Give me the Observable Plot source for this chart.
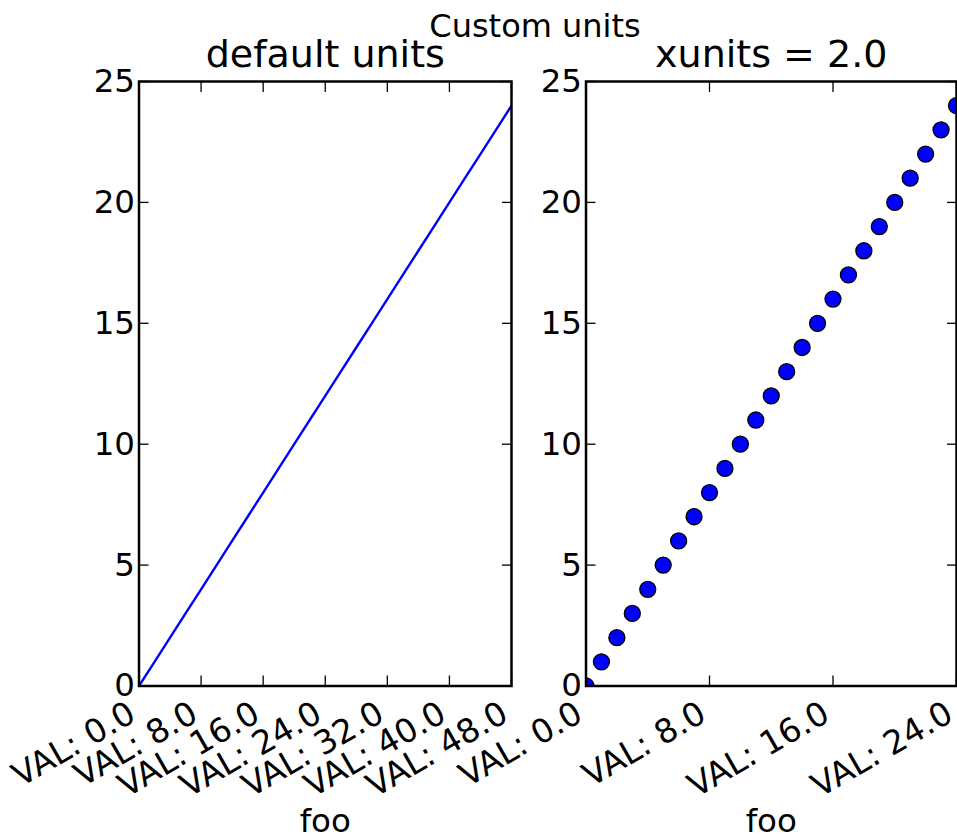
<!DOCTYPE html>
<html>
<head>
<meta charset="utf-8">
<script src="https://cdn.jsdelivr.net/npm/d3@7"></script>
<script src="https://cdn.jsdelivr.net/npm/@observablehq/plot@0.6"></script>
<style>
  html, body { margin: 0; padding: 0; background: white; }
  #wrap { position: relative; width: 957px; height: 839px; overflow: hidden; font-family: "DejaVu Sans", sans-serif; }
  #wrap svg { position: absolute; left: 0; top: 0; }
  #sup { position: absolute; left: 0; top: 10px; width: 1070px; text-align: center; font-size: 32px; line-height: 32px; color: black; }
</style>
</head>
<body>
<div id="wrap">
  <div id="sup"></div>
</div>
<script>
// Data: x values in "foo" units, y values
const xValues = [0, 2, 4, 6, 8, 10, 12, 14, 16, 18, 20, 22, 24, 26, 28, 30, 32, 34, 36, 38, 40, 42, 44, 46, 48];
const yValues = [0, 1, 2, 3, 4, 5, 6, 7, 8, 9, 10, 11, 12, 13, 14, 15, 16, 17, 18, 19, 20, 21, 22, 23, 24];
const xUnits = 2.0;
const leftXTicks = [0, 8, 16, 24, 32, 40, 48];
const rightXTicks = [0, 8, 16, 24];
const yTicks = [0, 5, 10, 15, 20, 25];
const titles = ["default units", "xunits = 2.0"];
const xLabel = "foo";
const supTitle = "Custom units";

document.getElementById("sup").textContent = supTitle;

const rows = xValues.map((x, i) => ({x, y: yValues[i]}));
const rowsScaled = rows.map(d => ({x: d.x / xUnits, y: d.y}));
const fmt = d => "VAL: " + d.toFixed(1);
const font = "DejaVu Sans, sans-serif";

function axes(xTicks) {
  return [
    Plot.axisY({anchor: "left", ticks: yTicks, tickSize: 0, tickPadding: 4, fontSize: 32.5, label: null}),
    Plot.axisY({anchor: "left", ticks: yTicks, tickSize: -10, strokeWidth: 1.3, tickFormat: () => "", label: null}),
    Plot.axisY({anchor: "right", ticks: yTicks, tickSize: -10, strokeWidth: 1.3, tickFormat: () => "", label: null}),
    Plot.axisX({anchor: "bottom", ticks: xTicks, tickSize: 0, tickPadding: 24.5, tickRotate: -30, textAnchor: "end", lineAnchor: "middle", dx: -6.5, tickFormat: fmt, fontSize: 33, label: null}),
    Plot.axisX({anchor: "bottom", ticks: xTicks, tickSize: -10, strokeWidth: 1.3, tickFormat: () => "", label: null}),
    Plot.axisX({anchor: "top", ticks: xTicks, tickSize: -10, strokeWidth: 1.3, tickFormat: () => "", label: null}),
    Plot.frame({stroke: "black", strokeWidth: 2.5})
  ];
}

const common = {
  width: 957,
  height: 839,
  marginTop: 81,
  marginBottom: 839 - 685.5,
  style: {background: "transparent", fontFamily: font, color: "black", overflow: "visible"},
  y: {domain: [0, 25]}
};

const left = Plot.plot({
  ...common,
  marginLeft: 138.5,
  marginRight: 957 - 511,
  x: {domain: [0, 48]},
  marks: [
    Plot.line(rows, {x: "x", y: "y", stroke: "blue", strokeWidth: 2.4, clip: true}),
    ...axes(leftXTicks),
    Plot.text([titles[0]], {text: d => d, frameAnchor: "top", lineAnchor: "middle", dy: -27, fontSize: 38, fill: "black"}),
    Plot.text([xLabel], {text: d => d, frameAnchor: "bottom", lineAnchor: "middle", dy: 136, fontSize: 32.5, fill: "black"})
  ]
});

const right = Plot.plot({
  ...common,
  marginLeft: 585.5,
  marginRight: 1,
  x: {domain: [0, 24]},
  marks: [
    Plot.dot(rowsScaled, {x: "x", y: "y", r: 8, fill: "blue", stroke: "black", strokeWidth: 1.3, clip: true}),
    ...axes(rightXTicks),
    Plot.text([titles[1]], {text: d => d, frameAnchor: "top", lineAnchor: "middle", dy: -27, fontSize: 38, fill: "black"}),
    Plot.text([xLabel], {text: d => d, frameAnchor: "bottom", lineAnchor: "middle", dy: 136, fontSize: 32.5, fill: "black"})
  ]
});

const wrap = document.getElementById("wrap");
wrap.appendChild(left);
wrap.appendChild(right);
</script>
</body>
</html>
